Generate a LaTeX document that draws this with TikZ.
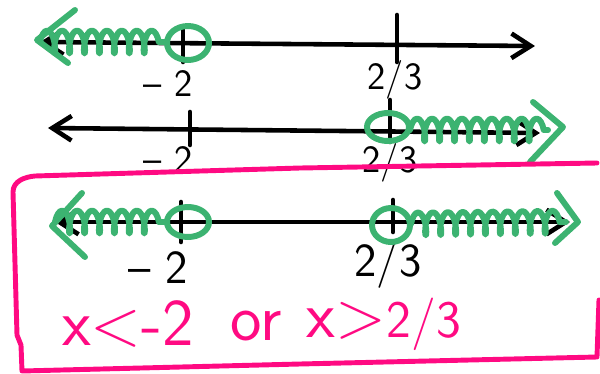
\documentclass[tikz,border=0pt]{standalone}
\usepackage{tikz}
\usetikzlibrary{arrows.meta, decorations.pathmorphing}
\definecolor{markgreen}{HTML}{3CB371}
\definecolor{markpink}{HTML}{FF0A82}

\begin{document}
\begin{tikzpicture}[x=0.02cm, y=-0.02cm, line cap=round, line join=round,
  axis/.style={draw=black, line width=2.6pt, {Straight Barb[length=11pt,width=14pt]}-{Straight Barb[length=11pt,width=14pt]}},
  tickmark/.style={draw=black, line width=2.6pt},
  pen/.style={draw=markgreen, line width=3.4pt},
  shade/.style={pen, decorate, decoration={coil, aspect=0.3, amplitude=6.5pt, segment length=8.5pt}},
  lbl/.style={font=\sffamily\fontsize{22}{26}\selectfont, inner sep=0.5pt},
  biglbl/.style={font=\sffamily\fontsize{27}{32}\selectfont, inner sep=0.5pt},
  answer/.style={text=markpink, font=\sffamily\fontsize{38}{44}\selectfont, inner sep=0pt},
  frame/.style={draw=markpink, line width=2.8pt}]
  \useasboundingbox (0,0) rectangle (600,373);

  % first line: x < -2
  \coordinate (aw) at (40,42);
  \coordinate (ae) at (535,46);
  \draw[axis] (aw) -- (ae);
  \draw[tickmark] (183,27) -- (183,62);
  \draw[tickmark] (397,15) -- (397,62);
  \node[lbl] (am) at (168,84) {-- 2};
  \node[lbl] (af) at (395,80) {2/3};
  \draw[pen] (75,10) -- (37,40) -- (68,63);
  \coordinate (ah) at (167,42);
  \draw[shade] (aw) -- (ah);
  \draw[pen] (188,43) ellipse [x radius=21, y radius=17];

  % second line: x > 2/3
  \coordinate (bw) at (48,128);
  \coordinate (be) at (540,133);
  \draw[axis] (bw) -- (be);
  \draw[tickmark] (190,112) -- (190,145);
  \draw[tickmark] (390,100) -- (390,142);
  \node[lbl] (bm) at (168,160) {-- 2};
  \node[lbl] (bf) at (390,163) {2/3};
  \coordinate (bh) at (410,130);
  \coordinate (bt) at (548,130);
  \draw[shade] (bh) -- (bt);
  \draw[pen] (533,102) -- (563,127) -- (530,162);
  \draw[pen] (388,127) ellipse [x radius=21, y radius=14];

  % answer box
  \draw[frame] (597,163) -- (300,168) -- (35,176)
    to[out=185,in=90] (13,192) -- (17,335) -- (21,345) -- (22,371)
    -- (300,364) -- (597,357) -- (599,300);

  % third line: union
  \coordinate (cw) at (55,222);
  \coordinate (ce) at (570,222);
  \draw[axis] (cw) -- (ce);
  \draw[tickmark] (181,202) -- (181,242);
  \draw[tickmark] (393,200) -- (393,232);
  \node[biglbl] (cm) at (158,268) {-- 2};
  \node[biglbl] (cf) at (388,265) {2/3};
  \coordinate (ch) at (167,222);
  \draw[shade] (cw) -- (ch);
  \draw[pen] (82,193) -- (52,226) -- (85,257);
  \draw[pen] (188,222) ellipse [x radius=21, y radius=15];
  \coordinate (cg) at (411,224);
  \coordinate (ct) at (566,222);
  \draw[shade] (cg) -- (ct);
  \draw[pen] (557,193) -- (578,222) -- (555,243);
  \draw[pen] (391,225) ellipse [x radius=19, y radius=17];

  \node[answer] (lt) at (128,324) {x<-2};
  \node[answer] (or) at (256,326) {or};
  \node[answer] (gt) at (384,324) {x>{\fontsize{30}{36}\selectfont 2/3}};
\end{tikzpicture}
\end{document}
